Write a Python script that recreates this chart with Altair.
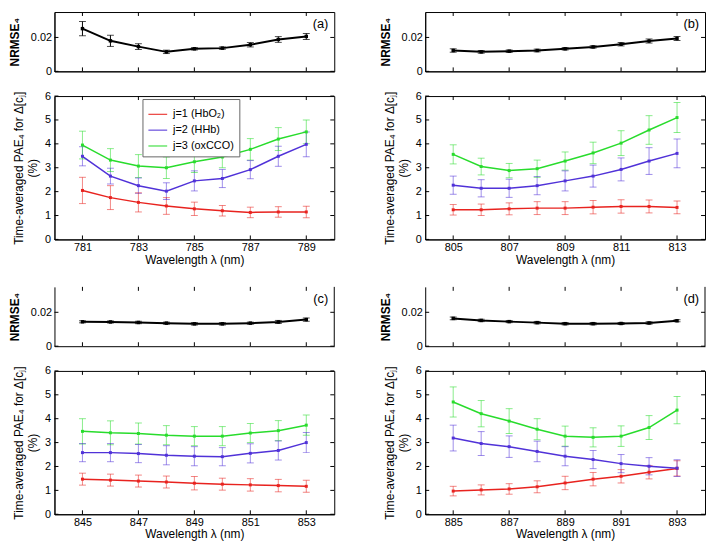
import altair as alt
import pandas as pd

FONT = "Liberation Sans"
SERIES = ["j=1 (HbO₂)", "j=2 (HHb)", "j=3 (oxCCO)"]
COLORS = ["#e8231f", "#5032d8", "#28dc2c"]

# ---------------- data ----------------
wl_a = [781, 782, 783, 784, 785, 786, 787, 788, 789]
nrmse_a = [0.0252, 0.0180, 0.0146, 0.0115, 0.0133, 0.0137, 0.0157, 0.0188, 0.0206]
nrmse_err_a = [0.0042, 0.0033, 0.0017, 0.0010, 0.0007, 0.0007, 0.0013, 0.0017, 0.0018]
red_a = [2.05, 1.75, 1.55, 1.40, 1.28, 1.20, 1.13, 1.15, 1.15]
red_err_a = [0.55, 0.50, 0.40, 0.35, 0.28, 0.22, 0.22, 0.22, 0.24]
blue_a = [3.48, 2.65, 2.25, 2.02, 2.45, 2.55, 2.92, 3.48, 3.98]
blue_err_a = [0.40, 0.33, 0.32, 0.35, 0.42, 0.38, 0.38, 0.42, 0.52]
green_a = [3.95, 3.32, 3.07, 3.00, 3.25, 3.45, 3.77, 4.20, 4.50]
green_err_a = [0.58, 0.48, 0.48, 0.45, 0.45, 0.45, 0.45, 0.48, 0.50]

wl_b = [805, 806, 807, 808, 809, 810, 811, 812, 813]
nrmse_b = [0.0123, 0.0115, 0.0119, 0.0123, 0.0133, 0.0144, 0.0160, 0.0179, 0.0194]
nrmse_err_b = [0.0010, 0.0008, 0.0007, 0.0008, 0.0007, 0.0007, 0.0010, 0.0012, 0.0012]
red_b = [1.24, 1.24, 1.28, 1.31, 1.31, 1.35, 1.38, 1.38, 1.34]
red_err_b = [0.22, 0.24, 0.25, 0.27, 0.27, 0.28, 0.28, 0.27, 0.27]
blue_b = [2.27, 2.14, 2.14, 2.25, 2.45, 2.65, 2.93, 3.28, 3.60]
blue_err_b = [0.38, 0.36, 0.38, 0.38, 0.42, 0.46, 0.48, 0.56, 0.60]
green_b = [3.56, 3.05, 2.88, 2.96, 3.28, 3.62, 4.03, 4.58, 5.10]
green_err_b = [0.40, 0.35, 0.30, 0.36, 0.38, 0.45, 0.52, 0.60, 0.63]

wl_c = [845, 846, 847, 848, 849, 850, 851, 852, 853]
nrmse_c = [0.0144, 0.0143, 0.0140, 0.0136, 0.0132, 0.0132, 0.0136, 0.0143, 0.0157]
nrmse_err_c = [0.0006, 0.0006, 0.0007, 0.0006, 0.0007, 0.0007, 0.0006, 0.0009, 0.0010]
red_c = [1.47, 1.43, 1.39, 1.35, 1.30, 1.26, 1.23, 1.20, 1.17]
red_err_c = [0.25, 0.25, 0.25, 0.25, 0.28, 0.25, 0.26, 0.26, 0.25]
blue_c = [2.58, 2.58, 2.54, 2.47, 2.43, 2.41, 2.55, 2.67, 3.00]
blue_err_c = [0.38, 0.38, 0.38, 0.40, 0.40, 0.38, 0.40, 0.40, 0.42]
green_c = [3.47, 3.41, 3.38, 3.31, 3.27, 3.27, 3.40, 3.50, 3.73]
green_err_c = [0.53, 0.50, 0.44, 0.40, 0.40, 0.40, 0.40, 0.42, 0.42]

wl_d = [885, 886, 887, 888, 889, 890, 891, 892, 893]
nrmse_d = [0.0164, 0.0152, 0.0145, 0.0139, 0.0133, 0.0133, 0.0134, 0.0137, 0.0150]
nrmse_err_d = [0.0008, 0.0007, 0.0006, 0.0007, 0.0007, 0.0007, 0.0006, 0.0007, 0.0006]
red_d = [0.97, 1.02, 1.06, 1.15, 1.31, 1.47, 1.59, 1.76, 1.92]
red_err_d = [0.20, 0.21, 0.22, 0.25, 0.28, 0.28, 0.28, 0.28, 0.32]
blue_d = [3.19, 2.96, 2.83, 2.63, 2.43, 2.29, 2.12, 2.01, 1.93]
blue_err_d = [0.54, 0.50, 0.45, 0.43, 0.40, 0.38, 0.38, 0.36, 0.35]
green_d = [4.70, 4.21, 3.90, 3.56, 3.27, 3.22, 3.27, 3.63, 4.36]
green_err_d = [0.63, 0.55, 0.52, 0.44, 0.42, 0.40, 0.43, 0.50, 0.57]

nrmse_ticks = [0, 0.02]
pae_ticks = [0, 1, 2, 3, 4, 5, 6]

W = 283
HT = 60
HB = 145
TL = 4  # inward tick length


def inward_ticks(xticks, yticks, xe_fn, ye_fn, h):
    xd = alt.Chart(pd.DataFrame({"t": xticks}))
    yd = alt.Chart(pd.DataFrame({"t": yticks}))
    xe = xe_fn("t:Q")
    ye = ye_fn("t:Q")
    style = dict(color="black", strokeWidth=1)
    return [
        xd.mark_rule(**style).encode(x=xe, y=alt.value(0), y2=alt.value(TL)),
        xd.mark_rule(**style).encode(x=xe, y=alt.value(h - TL), y2=alt.value(h)),
        yd.mark_rule(**style).encode(y=ye, x=alt.value(0), x2=alt.value(TL)),
        yd.mark_rule(**style).encode(y=ye, x=alt.value(W - TL), x2=alt.value(W)),
    ]


def top_chart(wl, v, e, label, xticks, open_top=False):
    df = pd.DataFrame({"wl": wl, "v": v,
                       "lo": [a - b for a, b in zip(v, e)],
                       "hi": [a + b for a, b in zip(v, e)]})
    xs = alt.Scale(domain=[wl[0] - 1, wl[-1] + 1], nice=False, zero=False)
    ys = alt.Scale(domain=[0, 0.035], nice=False)
    xax = alt.Axis(labels=False, ticks=False, title=None, grid=False, domain=True,
                   domainColor="black")
    yax = alt.Axis(values=nrmse_ticks, format=".2~f", ticks=False, grid=False,
                   domain=True, domainColor="black", labelPadding=3,
                   title="NRMSE₄", titleX=-33, titleY=HT / 2, titleBaseline="bottom",
                   titleFontWeight="bold")

    def X(f):
        return alt.X(f, scale=xs, axis=xax)

    def Y(f):
        return alt.Y(f, scale=ys, axis=yax)

    base = alt.Chart(df)
    line = base.mark_line(color="black", strokeWidth=2).encode(x=X("wl:Q"), y=Y("v:Q"))
    bars = base.mark_rule(color="black", strokeWidth=1).encode(
        x=X("wl:Q"), y=Y("lo:Q"), y2="hi:Q")
    cap_lo = base.mark_tick(color="black", thickness=1, size=7, orient="horizontal").encode(
        x=X("wl:Q"), y=Y("lo:Q"))
    cap_hi = base.mark_tick(color="black", thickness=1, size=7, orient="horizontal").encode(
        x=X("wl:Q"), y=Y("hi:Q"))
    pts = base.mark_square(color="black", size=12, opacity=1).encode(x=X("wl:Q"), y=Y("v:Q"))
    txt = alt.Chart(pd.DataFrame({"t": [label]})).mark_text(
        align="right", baseline="top", fontSize=13, font=FONT, color="black").encode(
        x=alt.value(W - 6), y=alt.value(6), text="t:N")
    layers = [line, bars, cap_lo, cap_hi, pts, txt] + inward_ticks(xticks, nrmse_ticks, X, Y, HT)
    if open_top:
        rborder = alt.Chart(pd.DataFrame({"t": [0]})).mark_rule(color="black", strokeWidth=1).encode(
            x=alt.value(W), y=alt.value(0), y2=alt.value(HT))
        layers.append(rborder)
        ch = alt.layer(*layers).properties(width=W, height=HT,
                                           view=alt.ViewBackground(stroke="transparent"))
    else:
        ch = alt.layer(*layers).properties(width=W, height=HT)
    return ch


def bottom_chart(wl, r, re, b, be, g, ge, xticks, legend=False):
    rows = []
    for s, vals, errs in zip(SERIES, [r, b, g], [re, be, ge]):
        for w, v, e in zip(wl, vals, errs):
            rows.append({"wl": w, "s": s, "v": v, "lo": v - e, "hi": v + e})
    df = pd.DataFrame(rows)
    xs = alt.Scale(domain=[wl[0] - 1, wl[-1] + 1], nice=False, zero=False)
    ys = alt.Scale(domain=[0, 6], nice=False)
    if legend:
        leg = alt.Legend(title=None, orient="none", legendX=89, legendY=3,
                         symbolType="stroke", symbolSize=360, symbolStrokeWidth=1.3,
                         symbolOpacity=0.8, labelFontSize=11, labelFont=FONT,
                         labelColor="black", rowPadding=0, padding=5,
                         strokeColor="#666", fillColor="white", labelLimit=200,
                         labelOffset=5)
    else:
        leg = None
    col = alt.Color("s:N", scale=alt.Scale(domain=SERIES, range=COLORS), legend=leg,
                    sort=SERIES)
    xax = alt.Axis(values=xticks, format="d", ticks=False, grid=False,
                   domain=True, domainColor="black", labelPadding=2,
                   title="Wavelength λ (nm)", titlePadding=2)
    yax = alt.Axis(values=pae_ticks, format="d", ticks=False, grid=False,
                   domain=True, domainColor="black", labelPadding=4,
                   title=["Time-averaged PAE₄ for Δ[cⱼ]", "(%)"],
                   titleX=-29, titleY=HB / 2, titleBaseline="bottom",
                   titleLineHeight=14)

    def X(f):
        return alt.X(f, scale=xs, axis=xax)

    def Y(f):
        return alt.Y(f, scale=ys, axis=yax)

    base = alt.Chart(df)
    bars = base.mark_rule(strokeWidth=1, opacity=0.55).encode(
        x=X("wl:Q"), y=Y("lo:Q"), y2="hi:Q", color=col)
    cap_lo = base.mark_tick(thickness=1, size=7, orient="horizontal", opacity=0.55).encode(
        x=X("wl:Q"), y=Y("lo:Q"), color=col)
    cap_hi = base.mark_tick(thickness=1, size=7, orient="horizontal", opacity=0.55).encode(
        x=X("wl:Q"), y=Y("hi:Q"), color=col)
    line = base.mark_line(strokeWidth=1.5).encode(x=X("wl:Q"), y=Y("v:Q"), color=col,
                                                  detail="s:N")
    pts = base.mark_square(size=9, opacity=1).encode(x=X("wl:Q"), y=Y("v:Q"), color=col)
    layers = [bars, cap_lo, cap_hi, line, pts] + inward_ticks(xticks, pae_ticks, X, Y, HB)
    return alt.layer(*layers).properties(width=W, height=HB)


def panel(top, bottom):
    return alt.vconcat(top, bottom, spacing=25, bounds="flush").resolve_scale(
        color="independent").resolve_legend(color="independent")


xt_a = [781, 783, 785, 787, 789]
xt_b = [805, 807, 809, 811, 813]
xt_c = [845, 847, 849, 851, 853]
xt_d = [885, 887, 889, 891, 893]

pa = panel(top_chart(wl_a, nrmse_a, nrmse_err_a, "(a)", xt_a),
           bottom_chart(wl_a, red_a, red_err_a, blue_a, blue_err_a, green_a, green_err_a, xt_a, legend=True))
pb = panel(top_chart(wl_b, nrmse_b, nrmse_err_b, "(b)", xt_b),
           bottom_chart(wl_b, red_b, red_err_b, blue_b, blue_err_b, green_b, green_err_b, xt_b))
pc = panel(top_chart(wl_c, nrmse_c, nrmse_err_c, "(c)", xt_c, open_top=True),
           bottom_chart(wl_c, red_c, red_err_c, blue_c, blue_err_c, green_c, green_err_c, xt_c))
pd_ = panel(top_chart(wl_d, nrmse_d, nrmse_err_d, "(d)", xt_d, open_top=True),
            bottom_chart(wl_d, red_d, red_err_d, blue_d, blue_err_d, green_d, green_err_d, xt_d))

row1 = alt.hconcat(pa, pb, spacing=44).resolve_scale(color="independent").resolve_legend(color="independent")
row2 = alt.hconcat(pc, pd_, spacing=44).resolve_scale(color="independent").resolve_legend(color="independent")

chart = alt.vconcat(row1, row2, spacing=20).resolve_scale(
    color="independent").resolve_legend(color="independent").properties(
    padding={"left": 0, "top": 0, "right": 0, "bottom": 0}
).configure_view(stroke="black", strokeWidth=1).configure_axis(
    labelFont=FONT, titleFont=FONT, labelFontSize=11, titleFontSize=12,
    labelColor="black", titleColor="black", titleFontWeight="normal",
    domainWidth=1
)

chart.save("out.html", embed_options={"renderer": "svg", "actions": False})
